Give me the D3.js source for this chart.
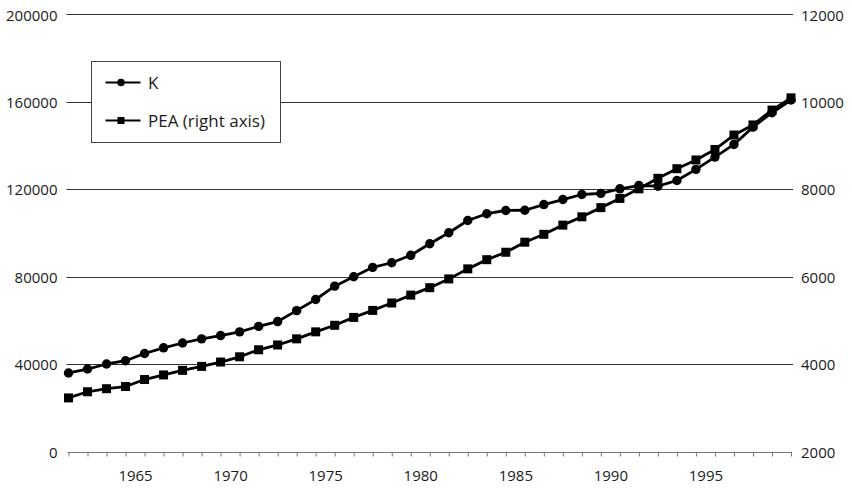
<!DOCTYPE html>
<html>
<head>
<meta charset="utf-8">
<script src="https://cdn.jsdelivr.net/npm/d3@7"></script>
<style>
  html, body { margin: 0; padding: 0; background: #fff; }
  svg { display: block; font-family: "Open Sans", "DejaVu Sans", sans-serif; }
</style>
</head>
<body>
<svg id="chart" width="852" height="488"></svg>
<script>
// Annual observations, 1962-2000
const years = [1962, 1963, 1964, 1965, 1966, 1967, 1968, 1969, 1970, 1971,
               1972, 1973, 1974, 1975, 1976, 1977, 1978, 1979, 1980, 1981,
               1982, 1983, 1984, 1985, 1986, 1987, 1988, 1989, 1990, 1991,
               1992, 1993, 1994, 1995, 1996, 1997, 1998, 1999, 2000];

// Capital stock (left axis)
const kValues = [36000, 37800, 40100, 41600, 44900, 47500, 49700, 51600, 53100, 54800,
                 57300, 59500, 64500, 69600, 75700, 80000, 84300, 86400, 89800, 95100,
                 100100, 105700, 108800, 110300, 110400, 113000, 115300, 117600, 118100, 120200,
                 121700, 121400, 124000, 129100, 134700, 140500, 148400, 155000, 160800];

// Economically active population (right axis)
const peaValues = [3230, 3370, 3440, 3490, 3650, 3755, 3860, 3950, 4050, 4170,
                   4330, 4440, 4580, 4740, 4890, 5070, 5230, 5400, 5580, 5750,
                   5950, 6180, 6390, 6560, 6790, 6970, 7180, 7370, 7580, 7790,
                   8010, 8250, 8470, 8670, 8910, 9240, 9470, 9810, 10090];

// Axis ticks and labels
const leftTicks = [0, 40000, 80000, 120000, 160000, 200000];
const rightTicks = [2000, 4000, 6000, 8000, 10000, 12000];
const labelYears = [1965, 1970, 1975, 1980, 1985, 1990, 1995];

const seriesNames = ["K", "PEA (right axis)"];

const svg = d3.select("#chart");
const plot = { left: 68.5, right: 791, top: 14.3, bottom: 451.7 };
const textColor = "#1a1a1a";

const x = d3.scaleLinear().domain([1962, 2000]).range([plot.left, plot.right]);
// Labels sit in the middle of each year's interval
const xMid = x.copy().domain([1961.5, 1999.5]);
const yLeft = d3.scaleLinear().domain([0, 200000]).range([plot.bottom, plot.top]);
const yRight = d3.scaleLinear().domain([2000, 12000]).range([plot.bottom, plot.top]);

// Horizontal gridlines
svg.append("g")
  .selectAll("line")
  .data(leftTicks.slice(1))
  .join("line")
  .attr("x1", plot.left - 2)
  .attr("x2", plot.right + 2)
  .attr("y1", d => Math.round(yLeft(d)) + 0.5)
  .attr("y2", d => Math.round(yLeft(d)) + 0.5)
  .attr("stroke", "#333")
  .attr("stroke-width", 1);

// Left value axis (labels only)
const leftAxis = svg.append("g")
  .attr("transform", `translate(${plot.left - 11},0)`)
  .call(d3.axisLeft(yLeft).tickValues(leftTicks).tickSize(0).tickPadding(0).tickFormat(d3.format("d")));
leftAxis.select(".domain").remove();
leftAxis.selectAll("text").attr("font-size", 15).attr("fill", textColor).attr("dy", "0.38em")
  .attr("font-family", "'Open Sans', sans-serif");

// Right value axis (labels only)
const rightAxis = svg.append("g")
  .attr("transform", `translate(${plot.right + 10},0)`)
  .call(d3.axisRight(yRight).tickValues(rightTicks).tickSize(0).tickPadding(0).tickFormat(d3.format("d")));
rightAxis.select(".domain").remove();
rightAxis.selectAll("text").attr("font-size", 15).attr("fill", textColor).attr("dy", "0.38em")
  .attr("font-family", "'Open Sans', sans-serif");

// Category axis: a tick at every year
const bottomAxis = svg.append("g")
  .attr("transform", `translate(0,${Math.round(plot.bottom) + 0.5})`)
  .call(d3.axisBottom(x).tickValues(years).tickSize(4).tickFormat(""));
bottomAxis.select(".domain").attr("stroke", "#777").attr("d", `M${plot.left - 1},0H${plot.right + 1}`);
bottomAxis.selectAll(".tick line").attr("stroke", "#777");

// Year labels
const labelAxis = svg.append("g")
  .attr("transform", `translate(0,${Math.round(plot.bottom)})`)
  .call(d3.axisBottom(xMid).tickValues(labelYears).tickSize(0).tickPadding(18.5).tickFormat(d3.format("d")));
labelAxis.select(".domain").remove();
labelAxis.selectAll("text").attr("font-size", 15).attr("fill", textColor)
  .attr("font-family", "'Open Sans', sans-serif");

// Series
const kData = years.map((yr, i) => ({ x: yr, y: kValues[i] }));
const peaData = years.map((yr, i) => ({ x: yr, y: peaValues[i] }));

const kLine = d3.line().x(d => x(d.x)).y(d => yLeft(d.y));
const peaLine = d3.line().x(d => x(d.x)).y(d => yRight(d.y));

svg.append("path").datum(peaData)
  .attr("d", peaLine).attr("fill", "none").attr("stroke", "#000").attr("stroke-width", 2.8)
  .attr("stroke-linejoin", "round");
svg.append("g").selectAll("rect").data(peaData).join("rect")
  .attr("x", d => x(d.x) - 4.5).attr("y", d => yRight(d.y) - 4.5)
  .attr("width", 9).attr("height", 9).attr("fill", "#000");

svg.append("path").datum(kData)
  .attr("d", kLine).attr("fill", "none").attr("stroke", "#000").attr("stroke-width", 2.8)
  .attr("stroke-linejoin", "round");
svg.append("g").selectAll("circle").data(kData).join("circle")
  .attr("cx", d => x(d.x)).attr("cy", d => yLeft(d.y)).attr("r", 4.7).attr("fill", "#000");

// Legend
const legend = svg.append("g").attr("transform", "translate(91.5,61.5)");
legend.append("rect").attr("width", 189).attr("height", 81)
  .attr("fill", "#fff").attr("stroke", "#444").attr("stroke-width", 1);

const entries = legend.selectAll("g.entry").data(seriesNames).join("g")
  .attr("class", "entry")
  .attr("transform", (d, i) => `translate(0,${21 + i * 38})`);
entries.append("line").attr("x1", 14).attr("x2", 49).attr("y1", 0).attr("y2", 0)
  .attr("stroke", "#000").attr("stroke-width", 2.2);
entries.filter((d, i) => i === 0).append("circle").attr("cx", 29.5).attr("cy", 0).attr("r", 3.8).attr("fill", "#000");
entries.filter((d, i) => i === 1).append("rect").attr("x", 26).attr("y", -3.5).attr("width", 7).attr("height", 7).attr("fill", "#000");
entries.append("text").attr("x", 56.5).attr("y", 0).attr("dy", "0.36em")
  .attr("font-size", 17).attr("fill", textColor).text(d => d);
</script>
</body>
</html>
